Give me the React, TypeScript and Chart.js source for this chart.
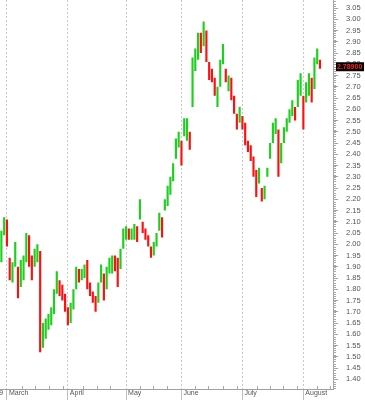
import React, { useEffect, useRef } from 'react';
import { Chart, registerables } from 'chart.js';

Chart.register(...registerables);

// Daily high/low ranges (trading days from late Feb to mid Aug 2009)
const lows = [
  1.92, 2.04, 1.99, 1.84, 1.83, 1.90, 1.76, 1.81, 1.84, 1.92,
  1.90, 1.84, 1.90, 1.92, 1.52, 1.54, 1.58, 1.62, 1.64, 1.69,
  1.78, 1.77, 1.75, 1.70, 1.64, 1.65, 1.71, 1.80, 1.83, 1.84,
  1.85, 1.80, 1.77, 1.74, 1.70, 1.74, 1.83, 1.75, 1.80, 1.87,
  1.87, 1.88, 1.81, 1.89, 1.98, 2.02, 2.02, 2.02, 2.02, 2.01,
  2.11, 2.05, 2.02, 1.99, 1.94, 1.95, 1.99, 2.06, 2.03, 2.15,
  2.17, 2.22, 2.28, 2.38, 2.43, 2.35, 2.48, 2.46, 2.42, 2.61,
  2.77, 2.82, 2.85, 2.88, 2.81, 2.73, 2.72, 2.66, 2.61, 2.70,
  2.80, 2.72, 2.68, 2.64, 2.58, 2.51, 2.54, 2.51, 2.44, 2.41,
  2.37, 2.30, 2.21, 2.27, 2.19, 2.20, 2.30, 2.38, 2.45, 2.49,
  2.30, 2.36, 2.45, 2.50, 2.54, 2.57, 2.55, 2.61, 2.66, 2.51,
  2.63, 2.66, 2.63, 2.69, 2.80, 2.78,
];
const highs = [
  2.06, 2.12, 2.11, 1.94, 1.92, 2.01, 1.90, 1.93, 1.95, 2.05,
  2.04, 1.95, 1.98, 2.00, 1.97, 1.65, 1.67, 1.69, 1.72, 1.80,
  1.88, 1.84, 1.82, 1.78, 1.72, 1.74, 1.80, 1.90, 1.89, 1.89,
  1.91, 1.93, 1.83, 1.79, 1.77, 1.83, 1.91, 1.87, 1.90, 1.94,
  1.95, 1.95, 1.94, 1.98, 2.07, 2.08, 2.07, 2.07, 2.09, 2.08,
  2.20, 2.10, 2.07, 2.04, 1.99, 2.01, 2.05, 2.14, 2.12, 2.20,
  2.26, 2.30, 2.36, 2.47, 2.50, 2.46, 2.56, 2.56, 2.50, 2.83,
  2.87, 2.94, 2.94, 2.99, 2.95, 2.81, 2.78, 2.74, 2.70, 2.82,
  2.89, 2.78, 2.75, 2.74, 2.66, 2.58, 2.61, 2.57, 2.54, 2.46,
  2.44, 2.39, 2.33, 2.34, 2.25, 2.26, 2.34, 2.45, 2.54, 2.56,
  2.51, 2.45, 2.52, 2.56, 2.60, 2.64, 2.61, 2.73, 2.76, 2.66,
  2.72, 2.76, 2.74, 2.83, 2.87, 2.82,
];
// u = up day (green), d = down day (red)
const directions = [
  'u', 'u', 'd', 'd', 'u', 'u', 'd', 'u', 'u', 'u',
  'd', 'd', 'u', 'u', 'd', 'u', 'u', 'u', 'u', 'u',
  'u', 'd', 'd', 'd', 'd', 'u', 'u', 'u', 'd', 'u',
  'u', 'd', 'd', 'd', 'd', 'u', 'u', 'd', 'u', 'u',
  'u', 'd', 'd', 'u', 'u', 'u', 'd', 'u', 'u', 'd',
  'u', 'd', 'd', 'd', 'd', 'u', 'u', 'u', 'd', 'u',
  'u', 'u', 'u', 'u', 'u', 'd', 'u', 'u', 'd', 'u',
  'u', 'u', 'd', 'u', 'd', 'd', 'd', 'd', 'u', 'u',
  'u', 'd', 'u', 'd', 'd', 'd', 'u', 'd', 'd', 'd',
  'd', 'd', 'd', 'u', 'd', 'u', 'u', 'u', 'u', 'u',
  'd', 'u', 'u', 'u', 'u', 'u', 'd', 'u', 'u', 'd',
  'u', 'u', 'd', 'u', 'u', 'd',
];
const lastPrice = 2.789;
const lastPriceLabel = '2.78900';

// x axis: month boundaries (in trading-day units) and labels
const monthTicks = [-16, 2.5, 24.5, 45.5, 65.5, 87.5, 109.5];
const monthLabels = ['February 2009', 'March', 'April', 'May', 'June', 'July', 'August'];
const weekTicks = [7.8, 12.8, 17.8, 22.8, 30.1, 34.9, 39.7, 50.5, 55.3, 60.2, 70.4, 75.2, 80.6, 85.5, 92.7, 97.5, 102.3, 107.1, 114.3, 119.1];

const X_MIN = 0;
const X_MAX = 120.2;
const Y_MIN = 1.3567;
const Y_MAX = 3.0856;
const Y_STEP = 0.05;

const GREEN = '#1fcf1f';
const RED = '#ff1010';
const FONT = "'Liberation Sans', Arial, sans-serif";

const overlay = {
  id: 'overlay',
  afterDraw(chart: any) {
    const { ctx } = chart;
    const ys = chart.scales.y;
    const xs = chart.scales.x;
    ctx.save();
    // minor ticks on price axis
    ctx.strokeStyle = '#a8a8a8';
    ctx.lineWidth = 1;
    ctx.beginPath();
    for (let k = Math.ceil(Y_MIN * 100); k <= Math.floor(Y_MAX * 100); k++) {
      const y = Math.round(ys.getPixelForValue(k / 100)) + 0.5;
      ctx.moveTo(ys.left, y);
      ctx.lineTo(ys.left + 3, y);
    }
    ctx.stroke();
    // weekly ticks on time axis
    ctx.beginPath();
    for (const w of weekTicks) {
      const x = Math.round(xs.getPixelForValue(w)) + 0.5;
      ctx.moveTo(x, xs.top);
      ctx.lineTo(x, xs.top - 3);
    }
    ctx.stroke();
    // last price box
    const py = ys.getPixelForValue(lastPrice);
    ctx.fillStyle = '#000';
    ctx.fillRect(ys.left + 3, py - 4.5, 28, 9);
    ctx.fillStyle = '#ff2020';
    ctx.font = `bold 7px ${FONT}`;
    ctx.textBaseline = 'middle';
    ctx.textAlign = 'left';
    ctx.fillText(lastPriceLabel, ys.left + 4, py + 0.5);
    ctx.restore();
  },
};

export default function App() {
  const ref = useRef<HTMLCanvasElement>(null);
  useEffect(() => {
    document.body.style.margin = '0';
    const canvas = ref.current;
    if (!canvas) return;
    const data = lows.map((lo, i) => ({ x: i + 0.5, y: [lo, highs[i]] }));
    const colors = directions.map((d) => (d === 'u' ? GREEN : RED));
    const chart = new Chart(canvas, {
      type: 'bar',
      data: {
        datasets: [
          {
            data: data as any,
            backgroundColor: colors,
            borderWidth: 0,
            barPercentage: 0.78,
            categoryPercentage: 1,
          },
        ],
      },
      options: {
        animation: false,
        responsive: false,
        layout: { padding: 0 },
        plugins: { legend: { display: false }, tooltip: { enabled: false } },
        scales: {
          x: {
            type: 'linear',
            offset: false,
            min: X_MIN,
            max: X_MAX,
            afterBuildTicks: (s: any) => {
              s.ticks = monthTicks.map((v) => ({ value: v }));
            },
            afterFit: (s: any) => {
              s.height = 11;
              s.paddingLeft = 0;
              s.paddingRight = 0;
            },
            ticks: {
              autoSkip: false,
              maxRotation: 0,
              minRotation: 0,
              align: 'start',
              labelOffset: 2,
              padding: -11,
              color: '#555',
              font: { family: FONT, size: 7 },
              callback: (_v: any, i: number) => monthLabels[i],
            },
            grid: {
              offset: false,
              color: '#c8c8c8',
              drawTicks: true,
              tickLength: 11,
              tickColor: '#c0c0c0',
            },
            border: { color: '#a0a0a0', dash: [2, 2] },
          },
          y: {
            type: 'linear',
            position: 'right',
            min: Y_MIN,
            max: Y_MAX,
            afterFit: (s: any) => {
              s.width = 32;
              s.paddingTop = 0;
              s.paddingBottom = 0;
            },
            ticks: {
              stepSize: Y_STEP,
              includeBounds: false,
              autoSkip: false,
              padding: 8,
              color: '#555',
              font: { family: FONT, size: 7.5 },
              callback: (v: any) => Number(v).toFixed(2),
            },
            grid: {
              drawOnChartArea: false,
              drawTicks: true,
              tickLength: 5,
              tickColor: '#a0a0a0',
            },
            border: { color: '#a0a0a0' },
          },
        },
      } as any,
      plugins: [overlay],
    });
    return () => chart.destroy();
  }, []);
  return <canvas ref={ref} width={365} height={400} style={{ display: 'block' }} />;
}
